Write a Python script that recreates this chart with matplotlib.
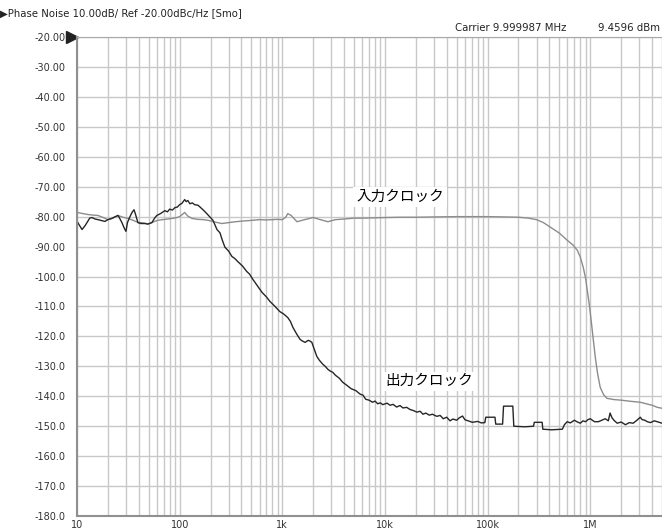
import numpy as np
import matplotlib.pyplot as plt
from matplotlib.ticker import FixedLocator, NullFormatter, FixedFormatter

# offset frequency (Hz) / phase noise (dBc/Hz)
out_freq = [10, 10.6, 11.2, 12.0, 12.5, 13.3, 14.0, 15, 16.0, 17.3, 18.7, 20, 21.9, 23,
            25.1, 26, 27.4, 29, 30.0, 31, 32.8, 34.5, 35.9, 37, 39.2, 42, 45.9, 49,
            53.7, 57, 60, 65, 71.8, 76, 80, 85, 89.9, 95, 100, 105, 112, 116, 120, 126,
            133, 140, 151, 157, 170, 184, 198, 211, 231, 247, 260, 276, 300, 323, 345,
            368, 410, 450, 480, 518, 570, 635, 700, 757, 850, 945, 1030, 1130, 1200,
            1270, 1380, 1490, 1580, 1670, 1790, 1870, 1940, 2050, 2170, 2300, 2480,
            2620, 2780, 2910, 3100, 3300, 3600, 3870, 4200, 4700, 5200, 5740, 6100,
            6500, 7000, 7580, 8000, 8500, 9000, 9530, 10500, 11200, 12000, 13000,
            14000, 15000, 16300, 17500, 19000, 20500, 22000, 23500, 25000, 27000,
            29000, 32000, 34500, 37000, 40000, 43000, 46000, 50000, 53000, 57000,
            60000, 62000, 66000, 71000, 80000, 87000, 94000, 96000, 118000, 120000,
            140000, 143000, 176000, 180000, 230000, 280000, 285000, 340000, 345000,
            420000, 535000, 560000, 596000, 640000, 700000, 750000, 800000, 850000,
            900000, 950000, 1.0e6, 1.1e6, 1.2e6, 1.3e6, 1.4e6, 1.5e6, 1.56e6, 1.63e6,
            1.7e6, 1.83e6, 2.0e6, 2.2e6, 2.4e6, 2.62e6, 2.85e6, 3.07e6, 3.2e6, 3.4e6,
            3.6e6, 3.86e6, 4.2e6, 4.5e6, 5.0e6]
out_db = [-81.5, -83, -84.3, -83, -82, -80.5, -80.3, -80.8, -81, -81.3, -81.6, -81, -80.6,
          -80.2, -79.6, -80.5, -82, -84, -84.9, -82, -80, -78.5, -77.7, -79, -82, -82.3,
          -82.3, -82.5, -82, -80.5, -79.6, -79, -78, -78.4, -77.5, -77.8, -77, -76.8,
          -76, -75.6, -74.3, -75.0, -74.6, -75.7, -75.4, -76, -76.2, -76.7, -77.8, -79,
          -80.2, -81.2, -84.3, -85.4, -87.8, -90.2, -91.5, -93.3, -94.0, -95, -96.5,
          -98.3, -99.2, -101, -103, -105.3, -106.8, -108.3, -110.0, -111.7, -112.5,
          -113.7, -115.0, -117, -119.2, -121, -121.6, -122, -121.3, -121.6, -122,
          -124.3, -126.7, -128.0, -129.3, -130.0, -131, -131.5, -132.0, -133, -134.0,
          -135.3, -136.2, -137.5, -138.1, -139.3, -139.6, -141, -141.3, -142, -141.6,
          -142.5, -142.2, -142.8, -142.3, -143.0, -142.7, -143.6, -143.1, -143.9,
          -143.7, -144.4, -144.8, -145.3, -145.0, -146, -145.6, -146.3, -146.0, -146.7,
          -146.4, -147.5, -147.0, -148.2, -147.6, -148, -147.2, -146.6, -147.8, -148,
          -148.3, -148.7, -148.4, -148.9, -148.8, -147, -147, -149.3, -149.3, -143.3,
          -143.3, -150, -150.2, -150, -148.7, -148.7, -151, -151.2, -151, -149.5,
          -148.5, -148.9, -148, -148.6, -149, -148.2, -148.5, -147.8, -147.5, -148.5,
          -148.5, -148.0, -147.5, -148.2, -145.6, -147.2, -148, -149, -148.6, -149.5,
          -148.8, -149, -148.0, -147, -147.8, -148, -148.5, -148.8, -148.2, -148.5, -149]

in_freq = [10, 11.5, 12.8, 14.5, 16, 18, 20, 22.5, 25.1, 28, 31.4, 35, 39.2, 44, 49.2, 55,
           61.4, 72, 84.2, 92, 100, 106, 112, 120, 132, 150, 170, 188, 220, 258, 300, 350,
           400, 480, 600, 700, 800, 900, 1000, 1080, 1130, 1220, 1390, 1650, 2000, 2350,
           2780, 3300, 4000, 5000, 6000, 8000, 10000, 14000, 20000, 30000, 50000, 70000,
           100000, 150000, 200000, 250000, 300000, 350000, 408000, 500000, 597000,
           680000, 747000, 800000, 854000, 900000, 935000, 980000, 1.02e6, 1.07e6,
           1.12e6, 1.18e6, 1.25e6, 1.35e6, 1.46e6, 1.7e6, 2.0e6, 2.5e6, 3.07e6, 3.5e6,
           4.0e6, 4.5e6, 5.0e6]
in_db = [-78.6, -79.0, -79.3, -79.5, -79.6, -80.3, -81, -80.4, -79.6, -80.2, -80.6, -81.2,
         -81.9, -82.1, -82.4, -81.8, -81.2, -80.9, -80.6, -80.4, -80, -79.3, -78.6, -79.8,
         -80.6, -80.9, -81.0, -81.2, -81.8, -82.3, -82, -81.7, -81.5, -81.3, -81, -81.1,
         -81, -80.9, -81, -80.2, -79, -79.6, -81.7, -81.0, -80.3, -81.0, -81.7, -81.0,
         -80.8, -80.5, -80.5, -80.4, -80.3, -80.2, -80.2, -80.1, -80, -80, -80, -80.1,
         -80.2, -80.5, -81, -82, -83.5, -85.5, -87.9, -89.5, -91.2, -93.5, -96.9, -100.5,
         -104.6, -109.5, -114.6, -121, -127, -132.5, -137, -139.5, -140.7, -141.1, -141.3,
         -141.7, -142, -142.5, -143.0, -143.7, -144]

x_ticks = [10, 100, 1e3, 1e4, 1e5, 1e6]
x_labels = ["10", "100", "1k", "10k", "100k", "1M"]
y_ticks = list(range(-20, -190, -10))
y_labels = ["-20.00", "-30.00", "-40.00", "-50.00", "-60.00", "-70.00", "-80.00",
            "-90.00", "-100.0", "-110.0", "-120.0", "-130.0", "-140.0", "-150.0",
            "-160.0", "-170.0", "-180.0"]

plt.rcParams['font.family'] = ['DejaVu Sans', 'Noto Sans CJK JP']

fig = plt.figure(figsize=(6.62, 5.31), dpi=100)
ax = fig.add_axes([0.1163, 0.0282, 0.8837, 0.9021])

ax.set_xscale("log")
ax.set_xlim(10, 5e6)
ax.set_ylim(-180, -20)

minor = [m * 10 ** d for d in range(1, 7) for m in range(2, 10)]
ax.xaxis.set_major_locator(FixedLocator(x_ticks))
ax.xaxis.set_major_formatter(FixedFormatter(x_labels))
ax.xaxis.set_minor_locator(FixedLocator(minor))
ax.xaxis.set_minor_formatter(NullFormatter())
ax.set_yticks(y_ticks)
ax.set_yticklabels(y_labels)

ax.grid(True, which="both", color="#c8c8c8", linewidth=1.0)
ax.set_axisbelow(True)
ax.tick_params(which="both", length=0, labelsize=7, colors="#333333")
ax.tick_params(axis="y", pad=8)
ax.tick_params(axis="x", pad=3)

for side in ["left", "bottom"]:
    ax.spines[side].set_color("#909090")
    ax.spines[side].set_linewidth(1.5)
ax.spines["top"].set_color("#a8a8a8")
ax.spines["right"].set_visible(False)

ax.plot(in_freq, in_db, color="#8c8c8c", linewidth=1.0)
ax.plot(out_freq, out_db, color="#262626", linewidth=1.0)

ax.text(14000, -73.5, "入力クロック", fontsize=10.5, ha="center", va="center",
        family=["Noto Sans CJK JP"],
        bbox=dict(facecolor="white", edgecolor="none", pad=2))
ax.text(27000, -135, "出力クロック", fontsize=10.5, ha="center", va="center",
        family=["Noto Sans CJK JP"],
        bbox=dict(facecolor="white", edgecolor="none", pad=2))

# reference marker at -20
ax.plot([-0.008], [-20], marker=">", markersize=9, color="#222222",
        transform=ax.get_yaxis_transform(), clip_on=False)

fig.text(0.0, 0.975, "\u25b6Phase Noise 10.00dB/ Ref -20.00dBc/Hz [Smo]", fontsize=7.3,
         va="center", color="#222222")
fig.text(0.687, 0.947, "Carrier 9.999987 MHz", fontsize=7.3, va="center", color="#222222")
fig.text(0.903, 0.947, "9.4596 dBm", fontsize=7.3, va="center", color="#222222")

fig.savefig("out.png", dpi=100, facecolor="white")
